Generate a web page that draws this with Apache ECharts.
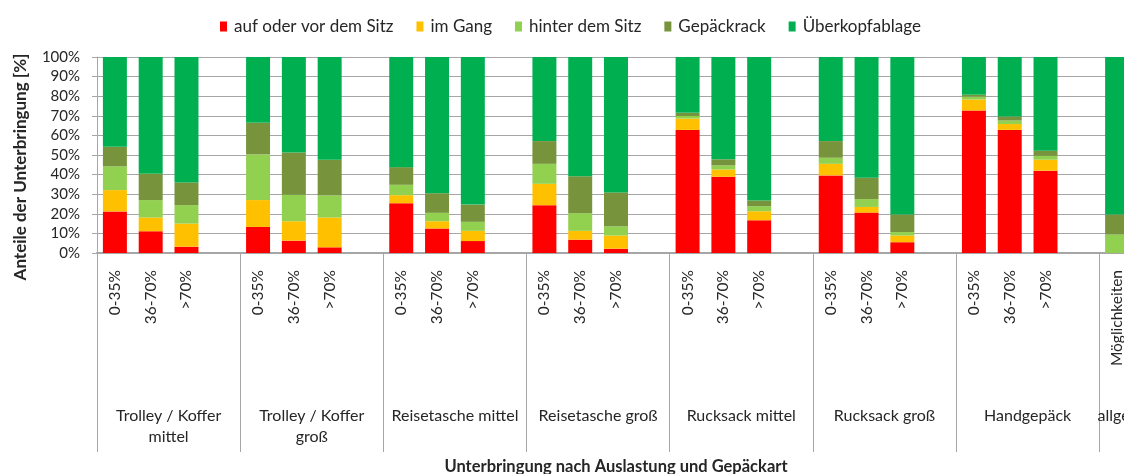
<!DOCTYPE html>
<html>
<head>
<meta charset="utf-8">
<script src="https://cdn.jsdelivr.net/npm/echarts@6/dist/echarts.min.js"></script>
<style>
  html, body { margin: 0; padding: 0; background: #fff; }
  #chart { width: 1124px; height: 474px; }
</style>
</head>
<body>
<div id="chart"></div>
<script>
// Beschriftungen
var subLabels = ['0-35%', '36-70%', '>70%', '', '0-35%', '36-70%', '>70%', '',
  '0-35%', '36-70%', '>70%', '', '0-35%', '36-70%', '>70%', '',
  '0-35%', '36-70%', '>70%', '', '0-35%', '36-70%', '>70%', '',
  '0-35%', '36-70%', '>70%', '', 'Möglichkeiten']
var groups = ['Trolley / Koffer\nmittel', 'Trolley / Koffer\ngroß', 'Reisetasche mittel',
  'Reisetasche groß', 'Rucksack mittel', 'Rucksack groß', 'Handgepäck', 'allgemeine']
var seriesNames = ['auf oder vor dem Sitz', 'im Gang', 'hinter dem Sitz', 'Gepäckrack', 'Überkopfablage']

// Werte in % (null = Lücke zwischen den Gruppen)
var aufSitz = [21.2, 11.1, 3.2, null, 13.3, 6.3, 2.9, null, 25.4, 12.5, 6.1, null,
  24.4, 6.8, 2.2, null, 62.8, 38.9, 16.7, null, 39.6, 20.6, 5.5, null, 72.7, 62.8, 42.0, null, 0]
var imGang = [10.9, 7.0, 11.8, null, 13.7, 9.9, 15.2, null, 4.1, 3.7, 5.2, null,
  10.9, 4.5, 6.7, null, 5.8, 3.7, 4.6, null, 5.9, 2.9, 3.4, null, 5.6, 3.0, 5.6, null, 0]
var hinterSitz = [12.1, 8.9, 9.4, null, 23.3, 13.5, 11.2, null, 5.3, 4.3, 4.6, null,
  10.2, 9.0, 4.7, null, 1.3, 2.1, 2.6, null, 3.1, 4.0, 1.8, null, 1.5, 1.8, 2.0, null, 9.4]
var gepaeckrack = [10.0, 13.4, 11.6, null, 16.1, 21.6, 18.3, null, 9.0, 10.0, 8.8, null,
  11.6, 18.9, 17.3, null, 1.6, 3.1, 2.9, null, 8.5, 10.9, 8.9, null, 0.9, 2.0, 2.6, null, 10.2]
var ueberkopf = [45.8, 59.6, 64.0, null, 33.6, 48.7, 52.4, null, 56.2, 69.5, 75.3, null,
  42.9, 60.8, 69.1, null, 28.5, 52.2, 73.2, null, 42.9, 61.6, 80.4, null, 19.3, 30.4, 47.8, null, 80.4]

var colors = ['#ff0000', '#ffc000', '#92d050', '#77933c', '#00b050']
var values = [aufSitz, imGang, hinterSitz, gepaeckrack, ueberkopf]

// Gruppenachse: halbe Kategorien, damit die Texte mittig unter 4 Kategorien stehen
var groupText = []
for (var j = 0; j <= 58; j++) {
  var t = ''
  if (j % 8 === 4 && j < 56) t = groups[(j - 4) / 8]
  if (j === 58) t = groups[7]
  groupText.push(t)
}
var groupKeys = groupText.map(function (d, i) { return 'g' + i })

var textColor = '#262626'
var lineColor = '#a6a6a6'
var font = 'Lato'

var option = {
  animation: false,
  textStyle: { fontFamily: font },
  legend: {
    top: 13,
    left: 215,
    itemWidth: 7,
    itemHeight: 10,
    itemGap: 23,
    icon: 'rect',
    data: seriesNames,
    textStyle: { color: textColor, fontSize: 17, fontFamily: font, padding: [0, 0, 0, 2] }
  },
  grid: {
    left: 97,
    right: -11,
    top: 57,
    bottom: 221,
    outerBoundsMode: 'none',
    containLabel: false
  },
  xAxis: [{
    type: 'category',
    data: subLabels,
    axisLine: { lineStyle: { color: lineColor, width: 2 } },
    axisTick: { interval: 0, length: 130, lineStyle: { color: lineColor } },
    axisLabel: {
      interval: 0,
      rotate: 90,
      margin: 17,
      color: textColor,
      fontSize: 15.5,
      fontFamily: font
    }
  }, {
    type: 'category',
    boundaryGap: false,
    position: 'bottom',
    min: 0,
    max: 58,
    data: groupKeys,
    name: 'Unterbringung nach Auslastung und Gepäckart',
    nameLocation: 'middle',
    nameGap: 205,
    nameTextStyle: { color: textColor, fontSize: 16.5, fontWeight: 'bold', fontFamily: font },
    axisLine: { show: false },
    axisTick: {
      interval: function (i) { return i % 8 === 0 },
      length: 199,
      lineStyle: { color: lineColor }
    },
    axisLabel: {
      interval: function (i) { return groupText[i] !== '' },
      margin: 152,
      color: textColor,
      fontSize: 16,
      lineHeight: 21,
      fontFamily: font,
      formatter: function (v, i) { return groupText[i] }
    }
  }],
  yAxis: {
    type: 'value',
    min: 0,
    max: 100,
    interval: 10,
    name: 'Anteile der Unterbringung [%]',
    nameLocation: 'middle',
    nameGap: 68,
    nameTextStyle: { color: textColor, fontSize: 17, fontWeight: 'bold', fontFamily: font, padding: [0, 24, 0, 0] },
    axisLine: { show: true, lineStyle: { color: lineColor, width: 1 } },
    axisTick: { show: true, length: 5, lineStyle: { color: lineColor } },
    splitLine: { lineStyle: { color: lineColor, width: 1 } },
    axisLabel: {
      margin: 17,
      color: textColor,
      fontSize: 15,
      fontFamily: font,
      formatter: '{value}%'
    }
  },
  series: seriesNames.map(function (name, k) {
    return {
      name: name,
      type: 'bar',
      stack: 'total',
      barCategoryGap: '33%',
      data: values[k],
      itemStyle: { color: colors[k] }
    }
  })
}

var myChart = echarts.init(document.getElementById('chart'))
myChart.setOption(option)
window.addEventListener('resize', function () { myChart.resize() })
</script>
</body>
</html>
